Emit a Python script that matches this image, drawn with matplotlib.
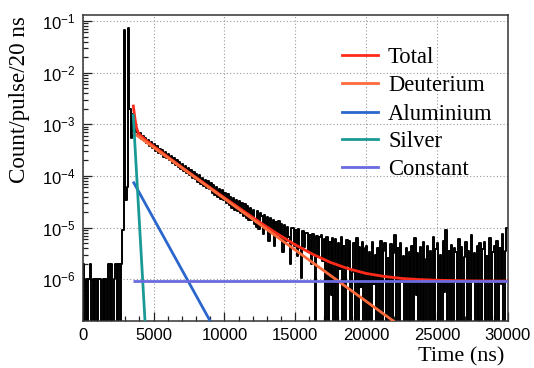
import numpy as np
import matplotlib
matplotlib.use("Agg")
import matplotlib.pyplot as plt
from matplotlib.ticker import LogLocator, MultipleLocator, NullFormatter
from matplotlib.lines import Line2D

plt.rcParams['font.family'] = ['Liberation Sans', 'DejaVu Sans']
plt.rcParams['mathtext.fontset'] = 'custom'
plt.rcParams['mathtext.rm'] = 'Liberation Sans'
plt.rcParams['mathtext.it'] = 'Liberation Sans:italic'
plt.rcParams['mathtext.bf'] = 'Liberation Sans:bold'

# ---------------- data ----------------
BIN_WIDTH_NS = 100  # histogram bin width (ns)

# 0 - 2800 ns : counts in units of 1e-6 count/pulse
pre_peak_counts = [2, 0, 1, 0, 1, 2, 0, 1, 0, 1, 0, 1, 1, 0, 1, 0, 1, 0, 2, 0,
                   2, 0, 1, 2, 0, 2, 0, 2]

# 2800 - 3800 ns : count/pulse
peak_values = [9e-6, 6.7e-2, 3.5e-5, 6e-5, 7.2e-2, 2.0e-3, 5.5e-4, 1.6e-3, 9e-4, 7.2e-4]

# 3800 - 20000 ns : 100*log10(count/pulse), None = empty bin
decay_log100 = [
    -313, -323, -317, -328, -322, -332, -326, -336, -330, -341,
    -334, -345, -339, -351, -341, -355, -347, -357, -349, -363,
    -353, -365, -357, -370, -362, -374, -365, -379, -369, -383,
    -373, -386, -376, -391, -381, -395, -384, -399, -389, -404,
    -392, -406, -396, -412, -399, -415, -403, -419, -407, -424,
    -410, -426, -414, -432, -417, -436, -421, -441, -425, -445,
    -428, -446, -432, -452, -435, -456, -440, -462, -443, -466,
    -446, -467, -449, -472, -452, -478, -455, -482, -458, -486,
    -461, -486, -465, -492, -498, -468, -503, -472, -477, -512,
    -476, -503, -480, -525, -482, -508, -486, -535, -489, -515,
    -488, -520, -492, -548, -494, -525, -498, -518, -570, -500,
    -500, -535, -504, -555, -503, -540, -598, -507, -538, -510,
    -510, -548, -514, -570, -512, -552, None, -516, -556, -518,
    -515, -565, -522, None, -519, None, -528, -630, -520, None,
    -522, None, -530, -580, -518, None, -536, None, -524, -575,
    -526, None, -585, -530, None, -520, None, -538, -615, -528, None, -540,
]

# 20000 - 30000 ns : 100*log10(count/pulse), None = empty bin
tail_log100 = [
    -535, None, -548, None, -528, -610, -552, None, -540, None,
    -525, None, -545, -530, None, -558, None, -532, None, -550,
    -515, None, -540, None, -530, -605, -555, None, -540, None,
    -548, None, -535, None, -520, -630, -550, None, -538, None,
    -528, None, -560, -535, None, -545, None, -518, None, -542,
    -530, None, -552, None, -526, -625, -505, None, -545, None,
    -533, None, -540, -548, None, -522, None, -538, None, -556,
    -527, None, -545, None, -515, -600, -550, None, -535, None,
    -530, None, -542, -528, None, -555, None, -520, None, -548,
    -536, None, -525, None, -540, -610, -512, None, -545, -500,
]

# fit curves (time ns, count/pulse)
total_t = [3560, 3700, 3800, 3900, 4000, 4500, 5000, 6000, 7500, 10000, 12500, 13750,
           15000, 16250, 17500, 18750, 20000, 21250, 22500, 23750, 25000, 27500, 30000]
total_v = [2.4e-3, 1.22e-3, 8.5e-4, 7.1e-4, 6.4e-4, 4.83e-4, 3.79e-4, 2.35e-4, 1.17e-4,
           3.79e-5, 1.27e-5, 7.56e-6, 4.67e-6, 3.04e-6, 2.12e-6, 1.60e-6, 1.30e-6,
           1.14e-6, 1.04e-6, 9.9e-7, 9.6e-7, 9.32e-7, 9.24e-7]
deuterium_t = [3560, 22500]
deuterium_v = [6.9e-4, 1.2e-7]
aluminium_t = [3560, 9000]
aluminium_v = [7.8e-5, 1.55e-7]
silver_t = [3560, 4500]
silver_v = [1.6e-3, 5e-8]
constant_t = [3560, 30000]
constant_v = [9.2e-7, 9.2e-7]

legend_labels = ["Total", "Deuterium", "Aluminium", "Silver", "Constant"]
colors = ["#ff2a1a", "#ff6a3a", "#2a66cc", "#1a9a96", "#6a6ae0"]

# ---------------- build histogram ----------------
values = [c * 1e-6 for c in pre_peak_counts] + list(peak_values) + \
         [0.0 if v is None else 10 ** (v / 100.0) for v in decay_log100 + tail_log100]
edges = np.arange(len(values) + 1) * BIN_WIDTH_NS

# ---------------- figure ----------------
fig = plt.figure(figsize=(5.34, 3.68), dpi=100)
ax = fig.add_axes([0.1549, 0.1285, 0.7959, 0.8307])

ax.step(edges, values + [values[-1]], where='post', color='black', lw=1.4, zorder=2)

series = [(total_t, total_v), (deuterium_t, deuterium_v), (aluminium_t, aluminium_v),
          (silver_t, silver_v), (constant_t, constant_v)]
for (t, v), c in zip(series, colors):
    ax.plot(t, v, color=c, lw=2.0, zorder=3, solid_capstyle='butt')

ax.set_yscale('log')
ax.set_xlim(0, 30000)
ax.set_ylim(1.58e-7, 0.1306)

ax.xaxis.set_major_locator(MultipleLocator(5000))
ax.xaxis.set_minor_locator(MultipleLocator(1000))
ax.yaxis.set_major_locator(LogLocator(base=10, numticks=20))
ax.yaxis.set_minor_locator(LogLocator(base=10, subs=np.arange(2, 10), numticks=20))
ax.yaxis.set_minor_formatter(NullFormatter())

ax.tick_params(which='both', direction='in', top=False, right=False, width=0.9, colors='#222222')
ax.tick_params(which='major', length=6.5, labelsize=12, pad=5)
ax.tick_params(which='minor', length=3.6)
for lab in ax.get_xticklabels() + ax.get_yticklabels():
    lab.set_color('black')

ax.grid(True, which='major', linestyle=(0, (1, 2)), color='#9a9a9a', lw=0.8, zorder=0)
for s in ax.spines.values():
    s.set_color('#333333')
    s.set_linewidth(1.1)

fig.text(20 / 534, 1 - 16 / 368, "Count/pulse/20 ns", rotation=90, ha='center', va='top',
         family='Liberation Serif', fontsize=16.6)
fig.text(504 / 534, 1.5 / 368, "Time (ns)", ha='right', va='bottom',
         family='Liberation Serif', fontsize=16)

# legend
rows_y = [55, 82.7, 111.7, 139.3, 166.7]
for lbl, c, yy in zip(legend_labels, colors, rows_y):
    yf = 1 - yy / 368
    fig.add_artist(Line2D([342 / 534, 378 / 534], [yf, yf], color=c, lw=2.0,
                          transform=fig.transFigure))
    fig.text(388 / 534, yf, lbl, ha='left', va='center_baseline',
             family='Liberation Serif', fontsize=16.3)

fig.savefig("out.png", dpi=100)
